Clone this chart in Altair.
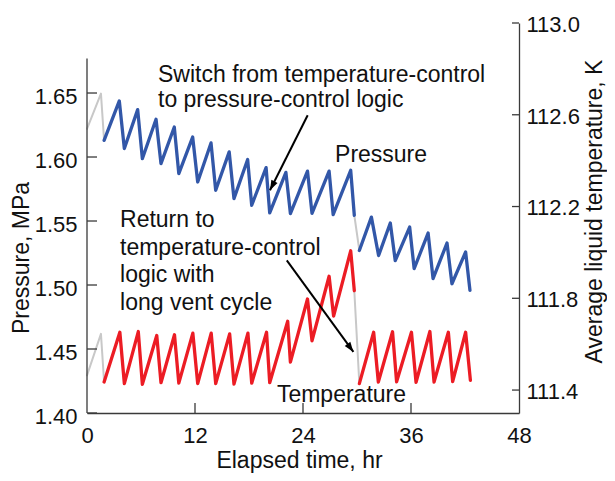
import math
import altair as alt
import pandas as pd

FONT = "Liberation Sans, Arial, Helvetica, sans-serif"

# ---------------- data ----------------
# Pressure (MPa) vs elapsed time (hr)
P_GRAY1_T = [0.0, 1.55, 1.9]
P_GRAY1_V = [1.622, 1.6495, 1.613]
P_BLUE1_T = [1.9, 3.59, 4.15, 5.63, 6.15, 7.67, 8.22, 9.7, 10.2, 11.74, 12.3, 13.78, 14.3,
             15.8, 16.33, 17.85, 18.3, 19.9, 20.3, 22.1, 22.6, 24.5, 25.0, 26.9, 27.35, 29.3, 29.7]
P_BLUE1_V = [1.613, 1.6438, 1.6066, 1.637, 1.5987, 1.6295, 1.5948, 1.6234, 1.587, 1.6156, 1.5805,
             1.611, 1.574, 1.604, 1.5675, 1.598, 1.5623, 1.5917, 1.5563, 1.588, 1.5558, 1.589,
             1.556, 1.589, 1.555, 1.5896, 1.5545]
P_GRAY2_T = [29.7, 30.26]
P_GRAY2_V = [1.5545, 1.527]
P_BLUE2_T = [30.26, 31.6, 32.4, 33.7, 34.25, 35.85, 36.35, 37.9, 38.45, 40.0, 40.55, 42.07, 42.55]
P_BLUE2_V = [1.527, 1.553, 1.523, 1.5484, 1.519, 1.5453, 1.5128, 1.5406, 1.505, 1.5328, 1.501,
             1.5258, 1.4959]

# Average liquid temperature (K) vs elapsed time (hr)
T_GRAY1_T = [0.0, 1.55, 1.9]
T_GRAY1_V = [111.464, 111.645, 111.435]
T_RED1_T = [1.9, 3.65, 4.15, 5.7, 6.15, 7.75, 8.22, 9.72, 10.2, 11.76, 12.3, 13.8, 14.3,
            15.85, 16.33, 17.88, 18.3, 19.95, 20.3, 22.3, 22.6, 24.5, 25.0, 26.9, 27.4, 29.3, 29.7]
T_RED1_V = [111.435, 111.652, 111.428, 111.655, 111.425, 111.638, 111.432, 111.641, 111.43,
            111.648, 111.428, 111.648, 111.428, 111.645, 111.426, 111.648, 111.43, 111.652,
            111.432, 111.70, 111.522, 111.797, 111.615, 111.896, 111.722, 112.007, 111.833]
T_GRAY2_T = [29.7, 30.26]
T_GRAY2_V = [111.833, 111.428]
T_RED2_T = [30.26, 31.85, 32.37, 33.95, 34.4, 36.05, 36.56, 38.1, 38.56, 40.15, 40.63, 42.07, 42.6]
T_RED2_V = [111.428, 111.652, 111.435, 111.654, 111.436, 111.652, 111.434, 111.655, 111.435,
            111.652, 111.437, 111.652, 111.442]

# Axis ticks
X_TICKS = [0, 12, 24, 36, 48]
P_TICKS = [1.40, 1.45, 1.50, 1.55, 1.60, 1.65]
T_TICKS = [111.4, 111.8, 112.2, 112.6, 113.0]

# Annotations (positions in hours / MPa)
ANNOT_TEXT = ["Switch from temperature-control", "to pressure-control logic", "Pressure",
              "Return to", "temperature-control", "logic with", "long vent cycle", "Temperature"]
ANNOT_T = [7.89, 7.89, 27.56, 3.67, 3.67, 3.67, 3.67, 21.1]
ANNOT_P = [1.6584, 1.6388, 1.5961, 1.5453, 1.5232, 1.5023, 1.4802, 1.4084]

ARROW_T1 = [24.52, 22.2]
ARROW_P1 = [1.6326, 1.5193]
ARROW_T2 = [20.33, 29.6]
ARROW_P2 = [1.574, 1.4477]

# ---------------- layout ----------------
W, H = 432, 390
X_DOM = [0, 48]
P_DOM = [1.40, 1.7047]
P_AXIS_TOP = 1.677
T_DOM = [111.3, 113.0]

BLUE = "#3257A8"
RED = "#EC1C24"
GRAY = "#C8C8C8"
INK = "#111111"
AXC = "#3a3a3a"

xs = alt.Scale(domain=X_DOM, nice=False, zero=False)
yP = alt.Scale(domain=P_DOM, nice=False, zero=False)
yT = alt.Scale(domain=T_DOM, nice=False, zero=False)

x_axis = alt.Axis(values=X_TICKS, format="d", title="Elapsed time, hr", ticks=False, tickSize=0,
                  labelPadding=12, labelFlush=False, domainColor=AXC, domainWidth=1.3,
                  titleX=212, titleY=54, titleBaseline="alphabetic", titleAlign="center")
p_axis = alt.Axis(values=P_TICKS, format=".2f", title="Pressure, MPa", domain=False,
                  ticks=False, tickSize=0, labelPadding=10, labelOffset=3.5,
                  titleAngle=270, titleX=-58.7, titleY=234.5, titleBaseline="alphabetic",
                  titleAlign="center")
t_axis = alt.Axis(values=T_TICKS, format=".1f", title="Average liquid temperature, K",
                  orient="right", ticks=False, tickSize=0, labelPadding=7, labelOffset=1.3,
                  domainColor=AXC, domainWidth=1.3,
                  titleAngle=270, titleX=82, titleY=188, titleBaseline="alphabetic",
                  titleAlign="center")

# every layer that shares a scale also shares the same axis definition
def X(field):
    return alt.X(field, scale=xs, axis=x_axis)

def YP(field):
    return alt.Y(field, scale=yP, axis=p_axis)

def YT(field):
    return alt.Y(field, scale=yT, axis=t_axis)


def segs(*pairs):
    rows = []
    for i, (ts, vs) in enumerate(pairs):
        for t, v in zip(ts, vs):
            rows.append({"t": t, "v": v, "seg": f"s{i}"})
    return pd.DataFrame(rows)


p_gray = segs((P_GRAY1_T, P_GRAY1_V), (P_GRAY2_T, P_GRAY2_V))
p_blue = segs((P_BLUE1_T, P_BLUE1_V), (P_BLUE2_T, P_BLUE2_V))
t_gray = segs((T_GRAY1_T, T_GRAY1_V), (T_GRAY2_T, T_GRAY2_V))
t_red = segs((T_RED1_T, T_RED1_V), (T_RED2_T, T_RED2_V))

line_kw = dict(strokeJoin="round", strokeCap="round")

# ---- pressure group (left axis) ----
pg = alt.Chart(p_gray).mark_line(color=GRAY, strokeWidth=2, **line_kw).encode(
    x=X("t:Q"), y=YP("v:Q"), detail="seg:N")
pb = alt.Chart(p_blue).mark_line(color=BLUE, strokeWidth=3.3, **line_kw).encode(
    x=X("t:Q"), y=YP("v:Q"), detail="seg:N")

left_dom = alt.Chart(pd.DataFrame({"v": [P_TICKS[0]], "v2": [P_AXIS_TOP]})).mark_rule(
    color=AXC, strokeWidth=1.3).encode(x=alt.value(0), y=YP("v:Q"), y2="v2:Q")
left_ticks = alt.Chart(pd.DataFrame({"v": P_TICKS})).mark_rule(color=AXC, strokeWidth=1.3).encode(
    y=YP("v:Q"), x=alt.value(0), x2=alt.value(10))
bottom_ticks = alt.Chart(pd.DataFrame({"t": X_TICKS[1:-1]})).mark_rule(
    color=AXC, strokeWidth=1.3).encode(x=X("t:Q"), y=alt.value(H), y2=alt.value(H - 10))

annot = alt.Chart(pd.DataFrame({"t": ANNOT_T, "v": ANNOT_P, "txt": ANNOT_TEXT})).mark_text(
    align="left", baseline="alphabetic", font=FONT, fontSize=23, color=INK).encode(
    x=X("t:Q"), y=YP("v:Q"), text="txt:N")

px_t = W / (X_DOM[1] - X_DOM[0])
px_p = H / (P_DOM[1] - P_DOM[0])
angles = []
for t1, p1, t2, p2 in zip(ARROW_T1, ARROW_P1, ARROW_T2, ARROW_P2):
    dx = (t2 - t1) * px_t
    dy = -(p2 - p1) * px_p
    angles.append(math.degrees(math.atan2(dx, -dy)) % 360)
arrows_df = pd.DataFrame({"t": ARROW_T1, "v": ARROW_P1, "t2": ARROW_T2, "v2": ARROW_P2,
                          "ang": angles})
arrow_lines = alt.Chart(arrows_df).mark_rule(color="black", strokeWidth=2).encode(
    x=X("t:Q"), y=YP("v:Q"), x2="t2:Q", y2="v2:Q")
arrow_heads = alt.Chart(arrows_df).mark_point(
    shape="M0,0L-0.38,1.1L0.38,1.1Z", filled=True, color="black", size=330, opacity=1).encode(
    x=X("t2:Q"), y=YP("v2:Q"), angle=alt.Angle("ang:Q", scale=None))

pressure_group = alt.layer(pg, pb, left_dom, left_ticks, bottom_ticks, annot,
                           arrow_lines, arrow_heads)

# ---- temperature group (right axis) ----
tg = alt.Chart(t_gray).mark_line(color=GRAY, strokeWidth=2, **line_kw).encode(
    x=X("t:Q"), y=YT("v:Q"), detail="seg:N")
tr = alt.Chart(t_red).mark_line(color=RED, strokeWidth=3.3, **line_kw).encode(
    x=X("t:Q"), y=YT("v:Q"), detail="seg:N")
right_ticks = alt.Chart(pd.DataFrame({"v": T_TICKS})).mark_rule(color=AXC, strokeWidth=1.3).encode(
    y=YT("v:Q"), x=alt.value(W), x2=alt.value(W - 7))

temp_group = alt.layer(tg, tr, right_ticks)

chart = alt.layer(temp_group, pressure_group).resolve_scale(y="independent").properties(
    width=W, height=H,
    padding={"left": 79, "top": 15, "right": 88, "bottom": 60},
    autosize=alt.AutoSizeParams(type="none"),
    background="white",
).configure_view(stroke=None).configure_axis(
    grid=False, labelFont=FONT, titleFont=FONT, labelFontSize=22, titleFontSize=23,
    titleFontWeight="normal", labelColor=INK, titleColor=INK,
)

chart.save("out.html", embed_options={"renderer": "svg", "actions": False})
